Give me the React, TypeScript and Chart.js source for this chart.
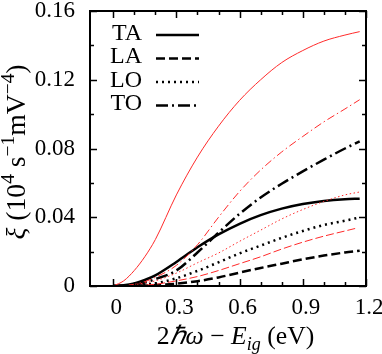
import React, { useEffect, useRef } from "react";
import { Chart, registerables } from "chart.js";

Chart.register(...registerables);

// ---- data ----
const xGrid = [0, 0.05, 0.1, 0.15, 0.2, 0.3, 0.4, 0.5, 0.6, 0.7, 0.8, 0.9, 1.0, 1.1, 1.17];
const xGridRedLA = [0, 0.05, 0.1, 0.15, 0.2, 0.3, 0.4, 0.5, 0.6, 0.7, 0.8, 0.9, 1.0, 1.1, 1.15];

const blackTA = [0, 0.0004, 0.0015, 0.0035, 0.0062, 0.014, 0.0225, 0.03, 0.0362, 0.0412, 0.045, 0.0477, 0.0495, 0.0505, 0.0508];
const blackLA = [0, 0, 0.0001, 0.0003, 0.0005, 0.0013, 0.0028, 0.005, 0.0078, 0.0105, 0.013, 0.0155, 0.0177, 0.0195, 0.0205];
const blackLO = [0, 0.00005, 0.0003, 0.0008, 0.0015, 0.0045, 0.0088, 0.0138, 0.019, 0.0235, 0.028, 0.032, 0.0355, 0.038, 0.0399];
const blackTO = [0, 0.0001, 0.0008, 0.002, 0.004, 0.009, 0.0195, 0.031, 0.042, 0.0515, 0.0595, 0.0667, 0.0735, 0.08, 0.0841];

const redTA = [0, 0.003, 0.009, 0.017, 0.027, 0.053, 0.075, 0.093, 0.108, 0.12, 0.13, 0.137, 0.1425, 0.146, 0.148];
const redLA = [0, 0, 0.0002, 0.0005, 0.001, 0.003, 0.0055, 0.009, 0.013, 0.017, 0.0215, 0.0255, 0.029, 0.032, 0.0335];
const redLO = [0, 0.0001, 0.0008, 0.0018, 0.003, 0.0075, 0.0135, 0.0192, 0.026, 0.0325, 0.039, 0.0445, 0.0492, 0.053, 0.0547];
const redTO = [0, 0.0002, 0.001, 0.0025, 0.005, 0.012, 0.024, 0.04, 0.055, 0.0675, 0.078, 0.087, 0.0955, 0.103, 0.1084];

const legendLabels = ["TA", "LA", "LO", "TO"];

const xTicks = [0, 0.3, 0.6, 0.9, 1.2];
const xMinorTicks = [0, 0.1, 0.2, 0.3, 0.4, 0.5, 0.6, 0.7, 0.8, 0.9, 1.0, 1.1, 1.2];
const yTicks = [0, 0.04, 0.08, 0.12, 0.16];
const yMinorTicks = [0, 0.02, 0.04, 0.06, 0.08, 0.1, 0.12, 0.14, 0.16];

// ---- styles ----
const FONT = '"Liberation Serif"';
const RED = "#ff2a2a";
const DASH = {
  solid: [] as number[],
  dashed: [9, 4],
  dotted: [2, 4],
  dashdot: [12, 4, 2, 4],
};
const DASH_RED = {
  solid: [] as number[],
  dashed: [8, 3],
  dotted: [1.5, 2.5],
  dashdot: [8, 3, 1.5, 3],
};

const pts = (xs: number[], ys: number[]) => xs.map((x, i) => ({ x, y: ys[i] }));

type Seg = { t: string; it?: boolean; sup?: boolean; sub?: boolean };

function drawRich(
  ctx: CanvasRenderingContext2D,
  segs: Seg[],
  baseSize: number,
  targetWidth: number,
  cx: number,
  cy: number,
  rotate: boolean
) {
  ctx.save();
  ctx.translate(cx, cy);
  if (rotate) ctx.rotate(-Math.PI / 2);
  const fontFor = (s: Seg, size: number) =>
    `${s.it ? "italic " : ""}${(s.sup || s.sub ? size * 0.7 : size).toFixed(1)}px ${FONT}`;
  const measure = (size: number) =>
    segs.map((s) => {
      ctx.font = fontFor(s, size);
      return ctx.measureText(s.t).width;
    });
  let widths = measure(baseSize);
  let total = widths.reduce((a, b) => a + b, 0);
  let size = baseSize;
  if (total > 0) {
    size = Math.max(20, Math.min(28, (baseSize * targetWidth) / total));
    widths = measure(size);
    total = widths.reduce((a, b) => a + b, 0);
  }
  let x = -total / 2;
  ctx.textBaseline = "alphabetic";
  ctx.textAlign = "left";
  ctx.fillStyle = "#000";
  segs.forEach((s, i) => {
    ctx.font = fontFor(s, size);
    const dy = s.sup ? -size * 0.4 : s.sub ? size * 0.22 : 0;
    ctx.fillText(s.t, x, dy);
    x += widths[i];
  });
  ctx.restore();
}

const decorPlugin = {
  id: "decor",
  afterDatasetsDraw(chart: any) {
    const ctx: CanvasRenderingContext2D = chart.ctx;
    const { left, right, top, bottom } = chart.chartArea;
    const xs = chart.scales.x;
    const ys = chart.scales.y;
    ctx.save();
    ctx.strokeStyle = "#000";
    ctx.lineWidth = 1.5;
    ctx.beginPath();
    xMinorTicks.forEach((v) => {
      const px = Math.round(xs.getPixelForValue(v)) + 0.5;
      const major = xTicks.some((t) => Math.abs(t - v) < 1e-9);
      const len = major ? 7 : 4;
      ctx.moveTo(px, bottom);
      ctx.lineTo(px, bottom - len);
      ctx.moveTo(px, top);
      ctx.lineTo(px, top + len);
    });
    yMinorTicks.forEach((v) => {
      const py = Math.round(ys.getPixelForValue(v)) + 0.5;
      const major = yTicks.some((t) => Math.abs(t - v) < 1e-9);
      const len = major ? 7 : 4;
      ctx.moveTo(left, py);
      ctx.lineTo(left + len, py);
      ctx.moveTo(right, py);
      ctx.lineTo(right - len, py);
    });
    ctx.stroke();
    ctx.lineWidth = 2;
    ctx.strokeRect(left, top, right - left, bottom - top);

    // legend
    const blackSets = chart.data.datasets.slice(4, 8);
    const rowY = [33.5, 57, 80.5, 104];
    ctx.font = `24px ${FONT}`;
    ctx.textAlign = "right";
    ctx.textBaseline = "middle";
    ctx.fillStyle = "#000";
    blackSets.forEach((ds: any, i: number) => {
      const y = rowY[i];
      ctx.fillText(legendLabels[i], 142, y);
      ctx.save();
      ctx.strokeStyle = ds.borderColor;
      ctx.lineWidth = ds.borderWidth;
      ctx.setLineDash(ds.borderDash || []);
      ctx.beginPath();
      ctx.moveTo(156, y + 1.5);
      ctx.lineTo(199, y + 1.5);
      ctx.stroke();
      ctx.restore();
    });

    drawRich(
      ctx,
      [
        { t: "2" },
        { t: "ℏ", it: true },
        { t: "ω", it: true },
        { t: " − " },
        { t: "E", it: true },
        { t: "ig", it: true, sub: true },
        { t: " (eV)" },
      ],
      25,
      157,
      235.5,
      344,
      false
    );
    drawRich(
      ctx,
      [
        { t: "ξ", it: true },
        { t: " (10" },
        { t: "4", sup: true },
        { t: " s" },
        { t: "−1", sup: true },
        { t: "mV" },
        { t: "−4", sup: true },
        { t: ")" },
      ],
      25,
      175,
      25,
      152,
      true
    );
    ctx.restore();
  },
};

function makeSet(label: string, xs: number[], ys: number[], color: string, width: number, dash: number[]) {
  return {
    label,
    data: pts(xs, ys),
    borderColor: color,
    backgroundColor: color,
    borderWidth: width,
    borderDash: dash,
    pointRadius: 0,
    fill: false,
    cubicInterpolationMode: "monotone" as const,
  };
}

export default function App() {
  const ref = useRef<HTMLCanvasElement>(null);
  useEffect(() => {
    if (!ref.current) return;
    const tickFont = { family: FONT, size: 23 };
    const chart = new Chart(ref.current, {
      type: "line",
      data: {
        datasets: [
          makeSet("TA (red)", xGrid, redTA, RED, 1, DASH_RED.solid),
          makeSet("LA (red)", xGridRedLA, redLA, RED, 1, DASH_RED.dashed),
          makeSet("LO (red)", xGrid, redLO, RED, 1, DASH_RED.dotted),
          makeSet("TO (red)", xGrid, redTO, RED, 1, DASH_RED.dashdot),
          makeSet("TA", xGrid, blackTA, "#000", 2.5, DASH.solid),
          makeSet("LA", xGrid, blackLA, "#000", 2.5, DASH.dashed),
          makeSet("LO", xGrid, blackLO, "#000", 2.5, DASH.dotted),
          makeSet("TO", xGrid, blackTO, "#000", 2.5, DASH.dashdot),
        ],
      },
      options: {
        responsive: false,
        animation: false,
        devicePixelRatio: 1,
        layout: { padding: { left: 0, right: 16, top: 11, bottom: 0 } },
        plugins: { legend: { display: false }, tooltip: { enabled: false } },
        scales: {
          x: {
            type: "linear",
            min: -0.11,
            max: 1.2,
            grid: { display: false, drawTicks: false },
            border: { display: false },
            ticks: {
              font: tickFont,
              color: "#000",
              padding: 8,
              labelOffset: 3,
              maxRotation: 0,
              autoSkip: false,
              callback: (v: any) => String(Number(Number(v).toFixed(2))),
            },
            afterBuildTicks: (s: any) => {
              s.ticks = xTicks.map((v) => ({ value: v }));
            },
            afterFit: (s: any) => {
              s.height = 68;
              s.paddingLeft = 0;
              s.paddingRight = 0;
            },
          },
          y: {
            type: "linear",
            min: 0,
            max: 0.16,
            grid: { display: false, drawTicks: false },
            border: { display: false },
            ticks: {
              font: tickFont,
              color: "#000",
              padding: 15,
              autoSkip: false,
              callback: (v: any) => String(Number(Number(v).toFixed(2))),
            },
            afterBuildTicks: (s: any) => {
              s.ticks = yTicks.map((v) => ({ value: v }));
            },
            afterFit: (s: any) => {
              s.width = 90;
              s.paddingTop = 0;
              s.paddingBottom = 0;
            },
          },
        },
      },
      plugins: [decorPlugin],
    } as any);
    return () => chart.destroy();
  }, []);
  return (
    <div style={{ position: "fixed", left: 0, top: 0, width: 382, height: 354, background: "#fff", overflow: "hidden" }}>
      <canvas ref={ref} width={382} height={354} style={{ display: "block" }} />
    </div>
  );
}
